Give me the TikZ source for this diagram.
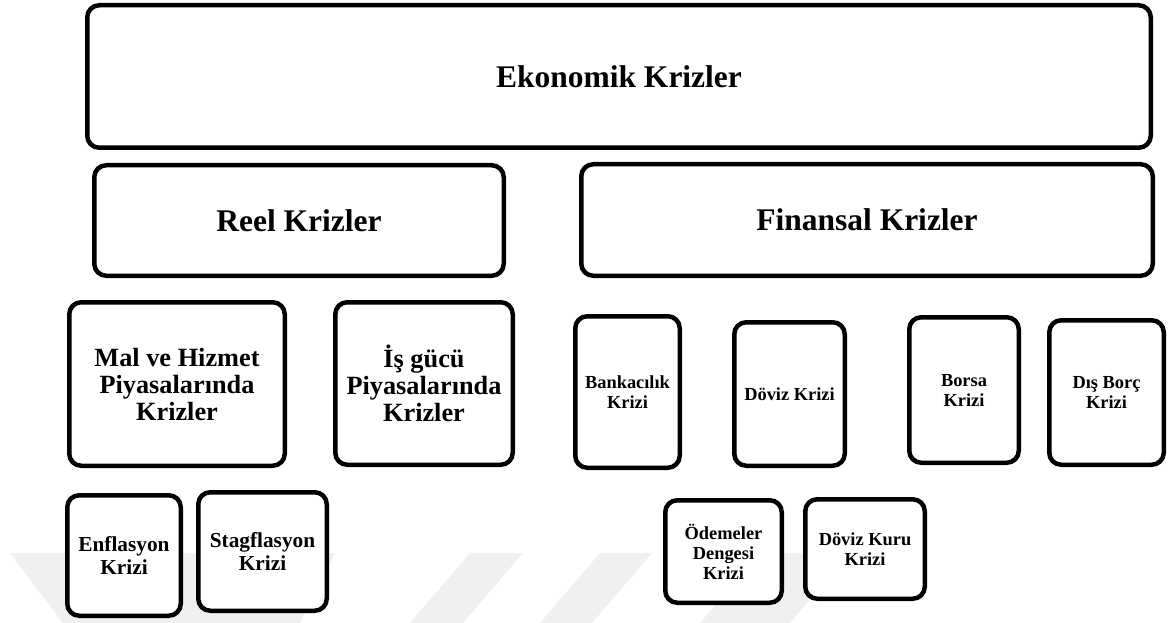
\documentclass[tikz,border=0pt]{standalone}
\usepackage{fontspec}
\setmainfont{Liberation Serif}
\begin{document}
\begin{tikzpicture}[x=1pt,y=-1pt,
  box/.style={draw=black, line width=4.5pt, rounded corners=12pt, fill=white,
    align=center, inner sep=0pt, text=black},
  fbig/.style={font=\fontsize{31.5}{36}\selectfont\bfseries},
  fmid/.style={font=\fontsize{26.3}{27}\selectfont\bfseries},
  fsmall/.style={font=\fontsize{21.3}{23}\selectfont\bfseries},
  ftiny/.style={font=\fontsize{18.4}{20}\selectfont\bfseries},
  wm/.style={fill=black!6, draw=none}]
\useasboundingbox (0,0) rectangle (1168,623);
% faint watermark stripes
\fill[wm] (10,553) -- (335,553) -- (300,623) -- (63,623) -- cycle;
\fill[wm] (470,553) -- (523,553) -- (463,623) -- (410,623) -- cycle;
\fill[wm] (600,553) -- (652,553) -- (592,623) -- (540,623) -- cycle;
\fill[wm] (760,553) -- (850,553) -- (790,623) -- (700,623) -- cycle;
% boxes
\node[box,fbig,minimum width=1063.5,minimum height=142.5] (eko) at (619,76.5) {Ekonomik Krizler};
\node[box,fbig,minimum width=409.5,minimum height=110.5] (reel) at (299,220.5) {Reel Krizler};
\node[box,fbig,minimum width=571.5,minimum height=111.5] (fin) at (867,220) {Finansal Krizler};
\node[box,fmid,minimum width=215.5,minimum height=163.5] (mal) at (177,384) {Mal ve Hizmet\\Piyasalarında\\Krizler};
\node[box,fmid,minimum width=177.5,minimum height=162.5] (isg) at (424,383.5) {İş gücü\\Piyasalarında\\Krizler};
\node[box,fsmall,minimum width=113.5,minimum height=120.5] (enf) at (124,555.5) {Enflasyon\\Krizi};
\node[box,fsmall,minimum width=128.5,minimum height=118.5] (stag) at (262.5,551.5) {Stagflasyon\\Krizi};
\node[box,ftiny,minimum width=104.5,minimum height=151.5] (bank) at (627.5,392) {Bankacılık\\Krizi};
\node[box,ftiny,minimum width=110.5,minimum height=143.5] (doviz) at (789.5,394) {Döviz Krizi};
\node[box,ftiny,minimum width=109.5,minimum height=145.5] (borsa) at (964,390) {Borsa\\Krizi};
\node[box,ftiny,minimum width=114.5,minimum height=144.5] (dis) at (1106.5,392.5) {Dış Borç\\Krizi};
\node[box,ftiny,minimum width=116.5,minimum height=102.5] (odem) at (723.5,551.5) {Ödemeler\\Dengesi\\Krizi};
\node[box,ftiny,minimum width=119.5,minimum height=99.5] (kuru) at (865,549) {Döviz Kuru\\Krizi};
\end{tikzpicture}
\end{document}
